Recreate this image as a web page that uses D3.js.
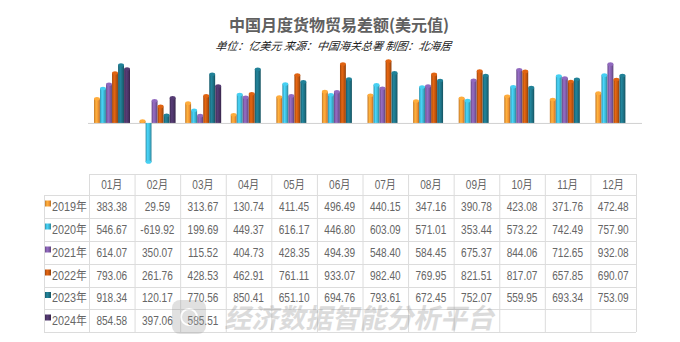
<!DOCTYPE html>
<html>
  <head>
    <meta charset="utf-8">
    <script src="https://d3js.org/d3.v7.min.js"></script>
    <style>
      body { margin: 0; background: #fff; }
      svg { display: block; font-family: "Liberation Sans", Arial, "Noto Sans CJK SC", sans-serif; }
    </style>
  </head>
  <body>
    <div id="chart"></div>
    <script>
      const months = ["01月", "02月", "03月", "04月", "05月", "06月", "07月", "08月", "09月", "10月", "11月", "12月"];
      const years = ["2019年", "2020年", "2021年", "2022年", "2023年", "2024年"];
      const v2019 = [383.38, 29.59, 313.67, 130.74, 411.45, 496.49, 440.15, 347.16, 390.78, 423.08, 371.76, 472.48];
      const v2020 = [546.67, -619.92, 199.69, 449.37, 616.17, 446.80, 603.09, 571.01, 353.44, 573.22, 742.49, 757.90];
      const v2021 = [614.07, 350.07, 115.52, 404.73, 428.35, 494.39, 548.40, 584.45, 675.37, 844.06, 712.65, 932.08];
      const v2022 = [793.06, 261.76, 428.53, 462.91, 761.11, 933.07, 982.40, 769.95, 821.51, 817.07, 657.85, 690.07];
      const v2023 = [918.34, 120.17, 770.56, 850.41, 651.10, 694.76, 793.61, 672.45, 752.07, 559.95, 693.34, 753.09];
      const v2024 = [854.58, 397.06, 585.51];
      const series = [v2019, v2020, v2021, v2022, v2023, v2024];
      const colors = ["#f39533", "#3db4d2", "#7e5ba6", "#c2560f", "#1d7083", "#4a3364"];

      const width = 680, height = 342;
      const svg = d3.select("#chart").append("svg")
        .attr("width", width).attr("height", height);

      // gradients for the cylinder look
      const defs = svg.append("defs");
      colors.forEach((c, i) => {
        const g = defs.append("linearGradient").attr("id", "g" + i)
          .attr("x1", "0%").attr("x2", "100%").attr("y1", "0%").attr("y2", "0%");
        g.append("stop").attr("offset", "0%").attr("stop-color", d3.color(c).darker(0.6));
        g.append("stop").attr("offset", "35%").attr("stop-color", d3.color(c).brighter(0.5));
        g.append("stop").attr("offset", "70%").attr("stop-color", c);
        g.append("stop").attr("offset", "100%").attr("stop-color", d3.color(c).darker(0.9));
      });

      // titles
      svg.append("text").attr("x", 339).attr("y", 31).attr("text-anchor", "middle")
        .attr("font-size", 16).attr("font-weight", "bold").attr("fill", "#606060")
        .attr("font-family", "'Noto Sans CJK SC', sans-serif")
        .text("中国月度货物贸易差额(美元值)");
      svg.append("text").attr("x", 334).attr("y", 50).attr("text-anchor", "middle")
        .attr("font-size", 11).attr("font-style", "italic").attr("fill", "#222")
        .attr("font-family", "'Noto Sans CJK SC', sans-serif")
        .attr("transform", "skewX(-8) translate(6,0)")
        .text("单位：亿美元 来源：中国海关总署 制图：北海居");

      // scales
      const x0 = d3.scaleBand().domain(months).range([89, 636]);
      const x1 = d3.scaleBand().domain(d3.range(6)).range([5, 41]).paddingInner(0.02);
      const y = d3.scaleLinear().domain([-619.92, 982.4]).range([162, 61]);

      svg.append("line").attr("x1", 88).attr("x2", 642)
        .attr("y1", y(0) + 0.5).attr("y2", y(0) + 0.5)
        .attr("stroke", "#d0d0d0");

      const bars = [];
      series.forEach((vals, s) => vals.forEach((v, m) => bars.push({ s, m, v })));

      const bw = x1.bandwidth();
      const bg = svg.append("g");
      bars.forEach(d => {
        const x = x0(months[d.m]) + x1(d.s);
        const top = Math.min(y(d.v), y(0));
        const h = Math.abs(y(d.v) - y(0));
        bg.append("rect").attr("x", x).attr("y", top).attr("width", bw).attr("height", Math.max(h, 1))
          .attr("fill", `url(#g${d.s})`);
        bg.append("ellipse").attr("cx", x + bw / 2).attr("cy", y(d.v))
          .attr("rx", bw / 2).attr("ry", 1.8)
          .attr("fill", d3.color(colors[d.s]).brighter(0.4));
      });

      // table
      const rowY = [174, 195, 218, 241, 264, 287, 309, 332];
      const tg = svg.append("g");
      const colX = d3.range(13).map(j => 89 + j * (636 - 89) / 12);
      colX.forEach(cx => tg.append("line").attr("x1", cx + 0.5).attr("x2", cx + 0.5)
        .attr("y1", rowY[0]).attr("y2", rowY[7]).attr("stroke", "#dcdcdc"));
      tg.append("line").attr("x1", 44.5).attr("x2", 44.5).attr("y1", rowY[1]).attr("y2", rowY[7]).attr("stroke", "#dcdcdc");
      rowY.forEach((ry, i) => tg.append("line").attr("x1", i === 0 ? 89 : 44).attr("x2", 636)
        .attr("y1", ry + 0.5).attr("y2", ry + 0.5).attr("stroke", "#dcdcdc"));

      const cell = (cx, cy, t, size) => tg.append("text")
        .attr("transform", `translate(${cx},${cy}) scale(0.84,1)`)
        .attr("text-anchor", "middle").attr("font-size", size).attr("fill", "#666").text(t);

      months.forEach((m, j) => cell(x0(m) + x0.bandwidth() / 2, (rowY[0] + rowY[1]) / 2 + 4, m, 12));
      const fmt = d3.formatLocale({ decimal: ".", thousands: ",", grouping: [3], currency: ["", ""], minus: "-" }).format(".2f");
      series.forEach((vals, s) => {
        const cy = (rowY[s + 1] + rowY[s + 2]) / 2 + 4;
        tg.append("rect").attr("x", 45).attr("y", cy - 10).attr("width", 6).attr("height", 6)
          .attr("fill", `url(#g${s})`);
        tg.append("text").attr("transform", `translate(52,${cy}) scale(0.9,1)`)
          .attr("font-size", 12).attr("fill", "#666").text(years[s]);
        vals.forEach((v, m) => cell(x0(months[m]) + x0.bandwidth() / 2, cy, fmt(v), 12));
      });

      // watermark
      const wm = svg.append("g").attr("opacity", 0.3);
      wm.append("rect").attr("x", 172).attr("y", 300).attr("width", 34).attr("height", 34).attr("rx", 8)
        .attr("fill", "#9a9a9a");
      wm.append("circle").attr("cx", 189).attr("cy", 317).attr("r", 8)
        .attr("fill", "none").attr("stroke", "#fff").attr("stroke-width", 2);
      wm.append("text").attr("x", 224).attr("y", 328)
        .attr("font-size", 27).attr("font-weight", "bold").attr("fill", "#8c8c8c")
        .attr("font-family", "'Noto Sans CJK SC', sans-serif")
        .attr("transform", "skewX(-12) translate(70,0)")
        .text("经济数据智能分析平台");
    </script>
  </body>
</html>
